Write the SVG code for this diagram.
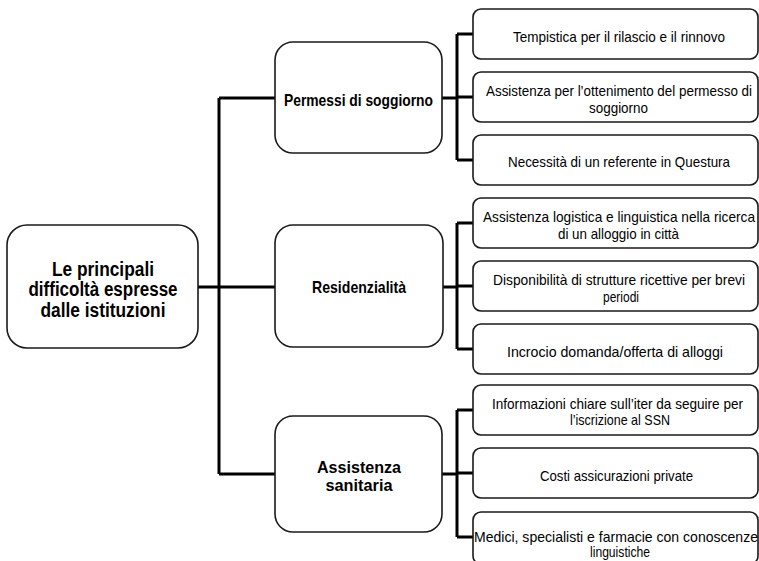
<svg xmlns="http://www.w3.org/2000/svg" width="759" height="561" viewBox="0 0 759 561">
<style>
.box{fill:#fff;stroke:#1a1a1a;stroke-width:1.6}
.con{fill:none;stroke:#000;stroke-width:3}
text{font-family:"Liberation Sans",Arial,sans-serif;fill:#000;text-anchor:middle}
.root{font-size:19.5px;font-weight:bold}
.mid{font-size:17px;font-weight:bold}
.leaf{font-size:14.5px}
</style>
<rect width="759" height="561" fill="#fff"/>
<g id="connectors">
<path class="con" d="M198 287H219M219 98V474M219 98H275M219 287H275M219 474H275"/>
<path class="con" d="M442 98H457M457 34V160M457 34H473M457 97H473M457 160H473"/>
<path class="con" d="M443 287H457M457 223V349M457 223H473M457 286H473M457 349H473"/>
<path class="con" d="M442 474H457M457 410V537M457 410H473M457 473H473M457 537H473"/>
</g>
<g id="root">
<rect class="box" x="7" y="225" width="191" height="123" rx="20"/>
<text class="root" x="103" y="275.5" textLength="102" lengthAdjust="spacingAndGlyphs">Le principali</text>
<text class="root" x="103" y="296" textLength="149" lengthAdjust="spacingAndGlyphs">difficoltà espresse</text>
<text class="root" x="103" y="316.5" textLength="125" lengthAdjust="spacingAndGlyphs">dalle istituzioni</text>
</g>
<g id="permessi">
<rect class="box" x="275" y="42" width="167" height="111" rx="18"/>
<text class="mid" x="358.5" y="106" textLength="149" lengthAdjust="spacingAndGlyphs">Permessi di soggiorno</text>
</g>
<g id="residenzialita">
<rect class="box" x="275" y="225" width="168" height="122" rx="18"/>
<text class="mid" x="359" y="293" textLength="94" lengthAdjust="spacingAndGlyphs">Residenzialità</text>
</g>
<g id="sanitaria">
<rect class="box" x="275" y="416" width="167" height="116" rx="18"/>
<text class="mid" x="359" y="473" textLength="84" lengthAdjust="spacingAndGlyphs">Assistenza</text>
<text class="mid" x="359" y="490.5" textLength="67" lengthAdjust="spacingAndGlyphs">sanitaria</text>
</g>
<g id="leaf1">
<rect class="box" x="473" y="9" width="285" height="50" rx="8"/>
<text class="leaf" x="619" y="41.5" textLength="212" lengthAdjust="spacingAndGlyphs">Tempistica per il rilascio e il rinnovo</text>
</g>
<g id="leaf2">
<rect class="box" x="473" y="72" width="285" height="50" rx="8"/>
<text class="leaf" x="619" y="96" textLength="266" lengthAdjust="spacingAndGlyphs">Assistenza per l’ottenimento del permesso di</text>
<text class="leaf" x="618.5" y="113" textLength="59" lengthAdjust="spacingAndGlyphs">soggiorno</text>
</g>
<g id="leaf3">
<rect class="box" x="473" y="135" width="285" height="50" rx="8"/>
<text class="leaf" x="619" y="166.5" textLength="222" lengthAdjust="spacingAndGlyphs">Necessità di un referente in Questura</text>
</g>
<g id="leaf4">
<rect class="box" x="473" y="198" width="285" height="50" rx="8"/>
<text class="leaf" x="619" y="222" textLength="272" lengthAdjust="spacingAndGlyphs">Assistenza logistica e linguistica nella ricerca</text>
<text class="leaf" x="618.5" y="238.5" textLength="121" lengthAdjust="spacingAndGlyphs">di un alloggio in città</text>
</g>
<g id="leaf5">
<rect class="box" x="473" y="261" width="285" height="50" rx="8"/>
<text class="leaf" x="619" y="285" textLength="252" lengthAdjust="spacingAndGlyphs">Disponibilità di strutture ricettive per brevi</text>
<text class="leaf" x="621" y="302" textLength="36" lengthAdjust="spacingAndGlyphs">periodi</text>
</g>
<g id="leaf6">
<rect class="box" x="473" y="324" width="285" height="50" rx="8"/>
<text class="leaf" x="615" y="356.5" textLength="216" lengthAdjust="spacingAndGlyphs">Incrocio domanda/offerta di alloggi</text>
</g>
<g id="leaf7">
<rect class="box" x="473" y="385" width="285" height="50" rx="8"/>
<text class="leaf" x="617.5" y="408.5" textLength="251" lengthAdjust="spacingAndGlyphs">Informazioni chiare sull’iter da seguire per</text>
<text class="leaf" x="620" y="425" textLength="100" lengthAdjust="spacingAndGlyphs">l’iscrizione al SSN</text>
</g>
<g id="leaf8">
<rect class="box" x="473" y="448" width="285" height="50" rx="8"/>
<text class="leaf" x="616.5" y="481" textLength="153" lengthAdjust="spacingAndGlyphs">Costi assicurazioni private</text>
</g>
<g id="leaf9">
<rect class="box" x="473" y="512" width="285" height="52" rx="8"/>
<text class="leaf" x="616" y="541.5" textLength="284" lengthAdjust="spacingAndGlyphs">Medici, specialisti e farmacie con conoscenze</text>
<text class="leaf" x="620" y="557" textLength="60" lengthAdjust="spacingAndGlyphs">linguistiche</text>
</g>
</svg>
